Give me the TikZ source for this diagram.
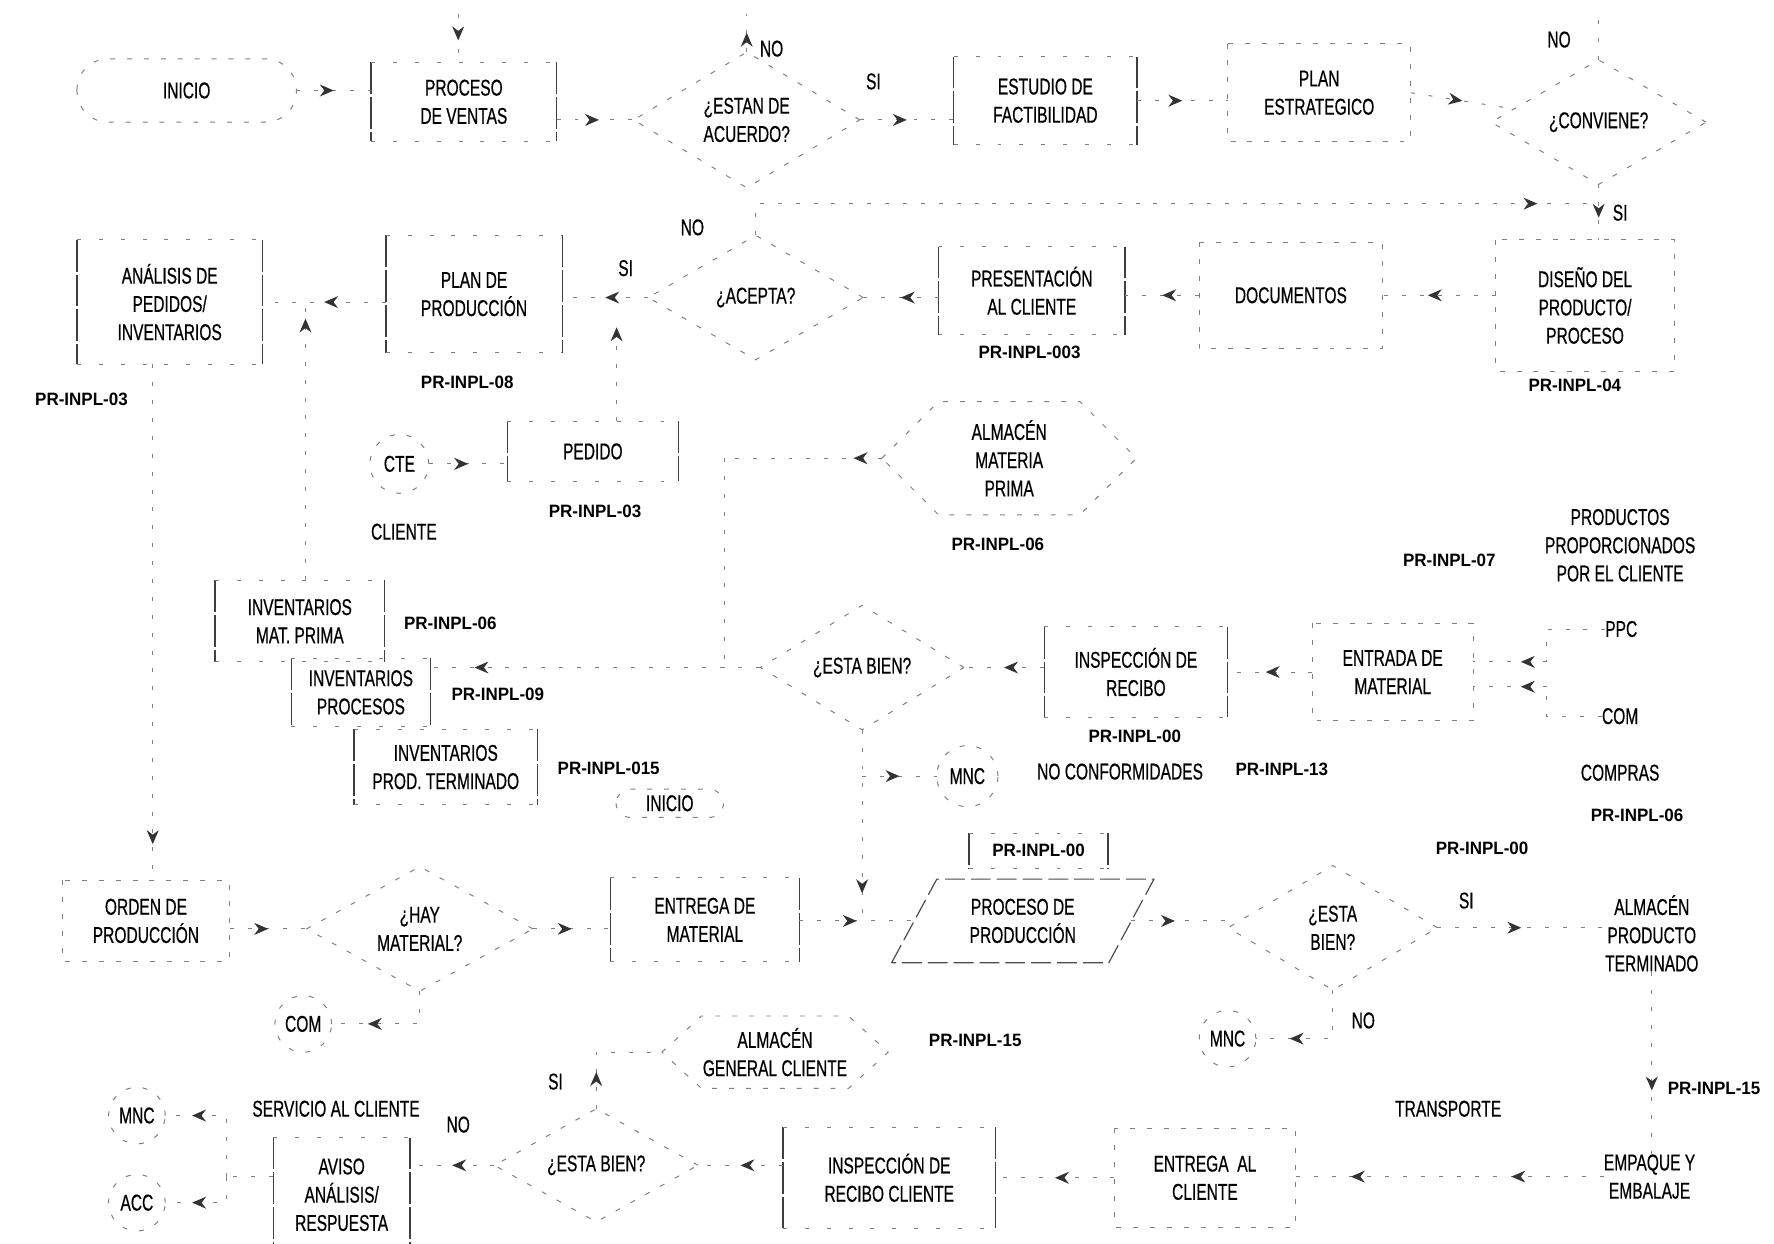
\documentclass[tikz,border=0pt]{standalone}
\usepackage{fontspec}
\setmainfont{Liberation Sans}
\newfontfamily\condf{Liberation Sans}[FakeStretch=0.68,FakeBold=0.5]
\newfontfamily\codef{Liberation Sans}[FakeStretch=0.95]
\usetikzlibrary{shapes.geometric,arrows.meta,decorations.markings,calc}
\newcommand\edgesStrong[1]{\draw[vedge] (#1.north west) -- (#1.south west) (#1.north east) -- (#1.south east);\draw[hedge] (#1.north west) -- (#1.north east) (#1.south west) -- (#1.south east);}
\newcommand\edgesFaint[1]{\draw[faint] (#1.north west) rectangle (#1.south east);}
\newcommand\hexa[2]{\draw[faint] (#1.west) -- ($(#1.north west)+(#2,0)$) -- ($(#1.north east)+(-#2,0)$) -- (#1.east) -- ($(#1.south east)+(-#2,0)$) -- ($(#1.south west)+(#2,0)$) -- cycle;}
\begin{document}
\begin{tikzpicture}[x=0.02cm,y=-0.02cm,
 every node/.style={inner sep=0pt,outer sep=0pt},
 lbl/.style={font=\condf\fontsize{11.5}{14.2}\selectfont,align=center},
 bx/.style 2 args={lbl,rectangle,minimum width=#1cm,minimum height=#2cm},
 code/.style={font=\codef\bfseries\fontsize{9}{11}\selectfont},
 vedge/.style={draw=black!75,line width=0.7pt,dash pattern=on 16pt off 1.5pt},
 hedge/.style={draw=black!50,line width=0.5pt,dash pattern=on 2pt off 9pt},
 faint/.style={draw=black!50,line width=0.5pt,dash pattern=on 2.5pt off 6pt},
 slant/.style={draw=black!70,line width=0.6pt,dash pattern=on 10pt off 3pt},
 conn/.style={draw=black!50,line width=0.5pt,dash pattern=on 2pt off 7pt},
 mar/.style={postaction={decorate,decoration={markings,mark=at position #1 with {\arrow{Stealth[length=7pt,width=6pt,color=black!80]}}}}},
 mar/.default=0.5]
\useasboundingbox (0,0) rectangle (1568,1099);
\fill[white] (0,0) rectangle (1568,1099);

% ---------- nodes: row 1
\node[bx={3.88}{1.12}] (term1) at (165,80) {INICIO};
\node[bx={3.28}{1.4}] (proceso) at (410,90) {PROCESO\\DE VENTAS};
\node[lbl,diamond,aspect=1.6,minimum width=4cm,minimum height=2.4cm,faint] (estan) at (660,106) {¿ESTAN DE\\ACUERDO?};
\node[bx={3.24}{1.56}] (estudio) at (924,89) {ESTUDIO DE\\FACTIBILIDAD};
\node[bx={3.24}{1.74}] (planest) at (1166,82) {PLAN\\ESTRATEGICO};
\node[lbl,diamond,aspect=1.6,minimum width=3.8cm,minimum height=2.2cm,faint] (conviene) at (1413,108) {¿CONVIENE?};
% row 2
\node[bx={3.28}{2.2}] (analisis) at (150,267) {ANÁLISIS DE\\PEDIDOS/\\INVENTARIOS};
\node[bx={3.12}{2.08}] (planprod) at (419,260) {PLAN DE\\PRODUCCIÓN};
\node[lbl,diamond,aspect=1.7,minimum width=3.8cm,minimum height=2.2cm,faint] (acepta) at (668,263) {¿ACEPTA?};
\node[bx={3.3}{1.56}] (present) at (912,257) {PRESENTACIÓN\\AL CLIENTE};
\node[bx={3.24}{1.88}] (docs) at (1141,261) {DOCUMENTOS};
\node[bx={3.16}{2.32}] (diseno) at (1401,270) {DISEÑO DEL\\PRODUCTO/\\PROCESO};
% row 3
\node[lbl,circle,minimum size=1.04cm,faint] (cte) at (353,410) {CTE};
\node[lbl] (cliente) at (357,470) {CLIENTE};
\node[bx={3.02}{1.06}] (pedido) at (524,399) {PEDIDO};
\node[bx={4.5}{2.0}] (almMP) at (892,405) {ALMACÉN\\MATERIA\\PRIMA};
\node[lbl] (prodcli) at (1432,482) {PRODUCTOS\\PROPORCIONADOS\\POR EL CLIENTE};
\node[lbl] (ppc) at (1433,556) {PPC};
\node[lbl] (com) at (1432,633) {COM};
\node[lbl] (compras) at (1432,683) {COMPRAS};
\node[bx={3.0}{1.44}] (invMP) at (265,549) {INVENTARIOS\\MAT. PRIMA};
\node[bx={2.46}{1.2}] (invproc) at (319,612) {INVENTARIOS\\PROCESOS};
\node[bx={3.24}{1.34}] (invPT) at (394,678) {INVENTARIOS\\PROD. TERMINADO};
\node[lbl,diamond,aspect=1.7,minimum width=3.6cm,minimum height=2.2cm,faint] (estabien) at (762,590) {¿ESTA BIEN?};
\node[bx={3.24}{1.6}] (insp) at (1004,594) {INSPECCIÓN DE\\RECIBO};
\node[bx={2.84}{1.72}] (entrada) at (1231,594) {ENTRADA DE\\MATERIAL};
\node[lbl,circle,minimum size=1.08cm,faint] (mnc1) at (855,686) {MNC};
\node[lbl] (noconf) at (990,682) {NO CONFORMIDADES};
\node[bx={1.9}{0.5}] (ini2) at (592,710) {INICIO};
% bottom rows
\node[bx={2.96}{1.44}] (orden) at (129,814) {ORDEN DE\\PRODUCCIÓN};
\node[lbl,diamond,aspect=1.8,minimum width=4cm,minimum height=2.2cm,faint] (hay) at (371,821) {¿HAY\\MATERIAL?};
\node[bx={3.34}{1.48}] (entmat) at (623,813) {ENTREGA DE\\MATERIAL};
\node[bx={4.64}{1.48}] (prodproc) at (904,814) {PROCESO DE\\PRODUCCIÓN};
\node[code,rectangle,minimum width=2.46cm,minimum height=0.62cm] (pr00) at (918,752) {PR-INPL-00};
\node[lbl,diamond,aspect=1.7,minimum width=3.7cm,minimum height=2.2cm,faint] (estabien2) at (1178,820) {¿ESTA\\BIEN?};
\node[lbl] (almPT) at (1460,825) {ALMACÉN\\PRODUCTO\\TERMINADO};
\node[lbl,circle,minimum size=1.0cm,faint] (com2) at (268,905) {COM};
\node[bx={4.0}{1.28}] (almGC) at (685,930) {ALMACÉN\\GENERAL CLIENTE};
\node[lbl,circle,minimum size=1.0cm,faint] (mnc2) at (1085,918) {MNC};
\node[lbl] (servicio) at (297,980) {SERVICIO AL CLIENTE};
\node[lbl,circle,minimum size=1.0cm,faint] (mnc3) at (121,986) {MNC};
\node[lbl,circle,minimum size=1.0cm,faint] (acc) at (121,1063) {ACC};
\node[bx={2.42}{2.02}] (aviso) at (302,1056) {AVISO\\ANÁLISIS/\\RESPUESTA};
\node[lbl,diamond,aspect=1.8,minimum width=3.6cm,minimum height=2cm,faint] (estabien3) at (527,1030) {¿ESTA BIEN?};
\node[bx={3.76}{1.78}] (inspcli) at (786,1041) {INSPECCIÓN DE\\RECIBO CLIENTE};
\node[bx={3.2}{1.76}] (entcli) at (1065,1041) {ENTREGA~~AL\\CLIENTE};
\node[lbl] (transp) at (1280,980) {TRANSPORTE};
\node[lbl] (empaque) at (1458,1040) {EMPAQUE Y\\EMBALAJE};

% ---------- codes
\node[code] (c1) at (72,353) {PR-INPL-03};
\node[code] (c2) at (413,338) {PR-INPL-08};
\node[code] (c3) at (910,311) {PR-INPL-003};
\node[code] (c4) at (1392,341) {PR-INPL-04};
\node[code] (c5) at (526,452) {PR-INPL-03};
\node[code] (c6) at (882,481) {PR-INPL-06};
\node[code] (c7) at (1281,495) {PR-INPL-07};
\node[code] (c8) at (398,551) {PR-INPL-06};
\node[code] (c9) at (440,614) {PR-INPL-09};
\node[code] (c10) at (538,679) {PR-INPL-015};
\node[code] (c11) at (1003,651) {PR-INPL-00};
\node[code] (c12) at (1133,680) {PR-INPL-13};
\node[code] (c13) at (1447,721) {PR-INPL-06};
\node[code] (c14) at (1310,750) {PR-INPL-00};
\node[code] (c15) at (862,920) {PR-INPL-15};
\node[code] (c16) at (1515,962) {PR-INPL-15};

% ---------- yes / no
\node[lbl] (n1) at (682,43) {NO};
\node[lbl] (s1) at (772,72) {SI};
\node[lbl] (n2) at (1378,35) {NO};
\node[lbl] (s2) at (1432,188) {SI};
\node[lbl] (n3) at (612,201) {NO};
\node[lbl] (s3) at (553,237) {SI};
\node[lbl] (s4) at (1296,796) {SI};
\node[lbl] (n4) at (1205,902) {NO};
\node[lbl] (s5) at (491,956) {SI};
\node[lbl] (n5) at (405,994) {NO};

% ---------- shape outlines
\draw[faint,rounded corners=0.55cm] (term1.north west) rectangle (term1.south east);
\draw[faint,rounded corners=0.25cm] (ini2.north west) rectangle (ini2.south east);
\edgesStrong{proceso}
\edgesStrong{estudio}
\edgesFaint{planest}
\edgesStrong{analisis}
\edgesStrong{planprod}
\edgesStrong{present}
\edgesFaint{docs}
\edgesFaint{diseno}
\edgesStrong{pedido}
\edgesStrong{invMP}
\edgesStrong{invproc}
\edgesStrong{invPT}
\edgesStrong{insp}
\edgesFaint{entrada}
\edgesFaint{orden}
\edgesStrong{entmat}
\edgesStrong{pr00}
\edgesStrong{aviso}
\edgesStrong{inspcli}
\edgesFaint{entcli}
\hexa{almMP}{50}
\hexa{almGC}{35}
\draw[slant] (prodproc.south west) -- ($(prodproc.north west)+(40,0)$) -- (prodproc.north east) -- ($(prodproc.south east)+(-40,0)$) -- cycle;

% ---------- coordinates for connectors
\coordinate (topP) at (405,12);
\coordinate (topE) at (660,12);
\coordinate (topC) at (1413,12);
\coordinate (jdis) at (1413,180);
\coordinate (xa) at (135,0);
\coordinate (jinv) at (270,272);
\coordinate (jped) at (545,285);
\coordinate (ja1) at (640,405);
\coordinate (ja2) at (640,590);
\coordinate (jp1) at (1367,585);
\coordinate (jp2) at (1367,607);
\coordinate (jm) at (762,686);
\coordinate (jpp) at (762,813);
\coordinate (jc) at (371,905);
\coordinate (pL) at ($(prodproc.west)+(20,0)$);
\coordinate (pR) at ($(prodproc.east)+(-20,0)$);
\coordinate (jn) at (1178,918);
\coordinate (js) at (527,930);
\coordinate (jq) at (200,1040);

% ---------- connectors
\draw[conn,mar] (term1.east) -- (term1.east -| proceso.west);
\draw[conn,mar=0.55] (topP) -- (topP |- proceso.north);
\draw[conn,mar=0.5] (estan.north) -- (topE);
\draw[conn] (conviene.north) -- (topC);
\draw[conn,mar=0.55] (proceso.east |- estan.west) -- (estan.west);
\draw[conn,mar=0.5] (estan.east) -- (estan.east -| estudio.west);
\draw[conn,mar=0.5] (estudio.east) -- (estudio.east -| planest.west);
\draw[conn,mar=0.5] (planest.east) -- (conviene);
\draw[conn,mar=0.6] (conviene.south) -- (conviene.south |- diseno.north);
\draw[conn,mar=0.93] (acepta.north) |- (jdis);
\draw[conn,mar=0.6] (diseno.west |- docs.east) -- (docs.east);
\draw[conn,mar=0.5] (docs.west) -- (docs.west -| present.east);
\draw[conn,mar=0.5] (present.west |- acepta.east) -- (acepta.east);
\draw[conn,mar=0.5] (acepta.west) -- (acepta.west -| planprod.east);
\draw[conn,mar=0.5] (planprod.west |- analisis.east) -- (analisis.east);
\draw[conn,mar=0.93] (analisis.south -| xa) -- (orden.north -| xa);
\draw[conn,mar=0.96] (invMP.north -| jinv) -- (jinv);
\draw[conn,mar=0.95] (pedido.north -| jped) -- (jped);
\draw[conn,mar=0.5] (cte.east) -- (cte.east -| pedido.west);
\draw[conn,mar=0.18] (almMP.west) -- (ja1);
\draw[conn] (ja1) -- (ja2);
\draw[conn,mar=0.85] (ja2) -- (ja2 -| invproc.east);
\draw[conn] (estabien.west) -- (ja2);
\draw[conn,mar=0.5] (insp.west |- estabien.east) -- (estabien.east);
\draw[conn,mar=0.55] (entrada.west |- insp.east) -- (insp.east);
\draw[conn] (ppc.west) -| (jp1);
\draw[conn,mar=0.35] (jp1) -- (jp1 -| entrada.east);
\draw[conn] (com.west) -| (jp2);
\draw[conn,mar=0.35] (jp2) -- (jp2 -| entrada.east);
\draw[conn,mar=0.86] (estabien.south) -- (jpp);
\draw[conn,mar=0.5] (jm) -- (mnc1.west);
\draw[conn,mar=0.5] (orden.east |- hay.west) -- (hay.west);
\draw[conn,mar=0.5] (hay.east) -- (hay.east -| entmat.west);
\draw[conn,mar=0.7] (hay.south) -- (jc) -- (com2.east);
\draw[conn,mar=0.5] (entmat.east |- pL) -- (pL);
\draw[conn,mar=0.45] (pR) -- (pR -| estabien2.west);
\draw[conn,mar=0.5] (estabien2.east) -- (estabien2.east -| almPT.west);
\draw[conn,mar=0.73] (estabien2.south) -- (jn) -- (mnc2.east);
\draw[conn,mar=0.65] (almPT.south) -- (almPT.south |- empaque.north);
\draw[conn,mar=0.3,mar=0.82] (empaque.west) -- (empaque.west -| entcli.east);
\draw[conn,mar=0.5] (entcli.west) -- (entcli.west -| inspcli.east);
\draw[conn,mar=0.5] (inspcli.west |- estabien3.east) -- (estabien3.east);
\draw[conn,mar=0.3] (estabien3.north) -- (js) -- (almGC.west);
\draw[conn,mar=0.5] (estabien3.west) -- (estabien3.west -| aviso.east);
\draw[conn] (aviso.west |- jq) -- (jq);
\draw[conn,mar=0.78] (jq) |- (mnc3.east);
\draw[conn,mar=0.69] (jq) |- (acc.east);
\end{tikzpicture}
\end{document}
